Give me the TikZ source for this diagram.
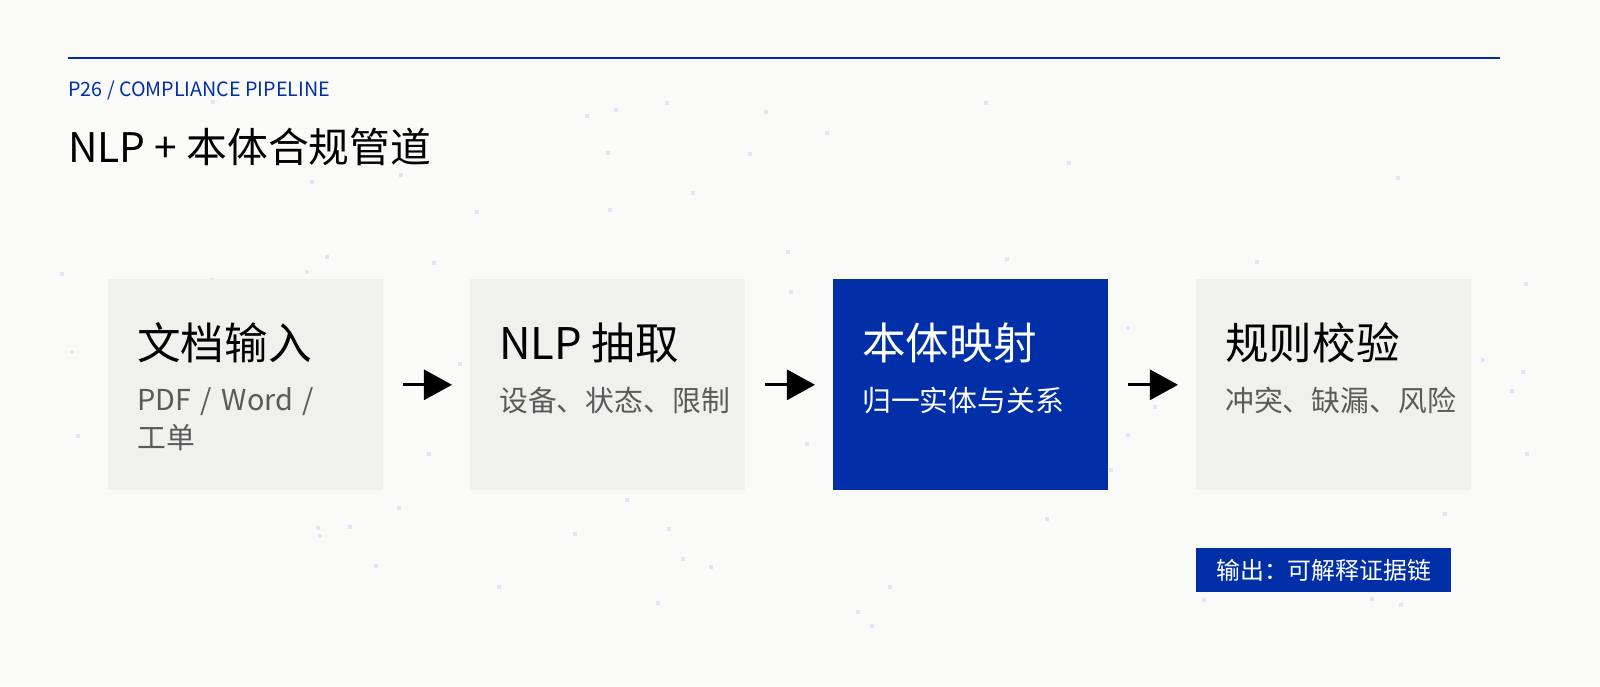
\documentclass[tikz,border=0pt]{standalone}
\usepackage{fontspec}
\setmainfont{Noto Sans CJK SC}
\usepackage{xcolor}
\usetikzlibrary{arrows.meta,positioning}
\definecolor{pipeblue}{HTML}{002FA7}
\definecolor{boxgray}{HTML}{F0F0EF}
\definecolor{subgray}{HTML}{5A5A5A}
\definecolor{dotlav}{HTML}{E2E4F6}
\definecolor{paper}{HTML}{FAFAF9}

\begin{document}
\begin{tikzpicture}[x=0.025cm, y=-0.025cm, line join=round,
    stage/.style={minimum width=6.875cm, minimum height=5.275cm, inner sep=0pt, fill=boxgray},
    stagehead/.style={anchor=west, inner sep=0pt, font=\fontsize{31}{36}\selectfont},
    stagesub/.style={anchor=north west, inner sep=0pt, align=left, text width=4.7cm,
        text=subgray, font=\fontsize{20.5}{27}\selectfont},
    flow/.style={-{Triangle[length=0.7cm, width=0.75cm]}, line width=2.1pt,
        shorten <=0.475cm, shorten >=0.45cm}]
    \useasboundingbox (0,0) rectangle (1600,686);
    \fill[paper] (0,0) rectangle (1600,686);
    % faint dots
    \pgfmathsetseed{26}
    \foreach \i in {1,...,90}{
        \pgfmathsetmacro{\dx}{60+rnd*1480}
        \pgfmathsetmacro{\dy}{90+rnd*540}
        \fill[dotlav] (\dx,\dy) rectangle ++(4,4);
    }
    % header
    \draw[pipeblue, line width=1.6pt] (68,58) -- (1500,58);
    \node[anchor=west, inner sep=0pt, text=pipeblue, font=\fontsize{14}{16}\selectfont] (kicker) at (68,90) {P26 / COMPLIANCE PIPELINE};
    \node[anchor=west, inner sep=0pt, font=\fontsize{29}{32}\selectfont] (title) at (68,147) {NLP + 本体合规管道};
    % stages
    \node[stage, anchor=north west] (doc) at (108,279) {};
    \node[stage, anchor=north west] (nlp) at (470,279) {};
    \node[stage, anchor=north west, fill=pipeblue] (onto) at (833,279) {};
    \node[stage, anchor=north west] (rule) at (1196,279) {};
    \node[stagehead] (dochead) at (137,343) {文档输入};
    \node[stagesub] (docsub) at (137,387) {PDF / Word / 工单};
    \node[stagehead] (nlphead) at (499,343) {NLP 抽取};
    \node[stagesub] (nlpsub) at (499,387) {设备、状态、限制};
    \node[stagehead, text=white] (ontohead) at (862,343) {本体映射};
    \node[stagesub, text=white] (ontosub) at (862,387) {归一实体与关系};
    \node[stagehead] (rulehead) at (1225,343) {规则校验};
    \node[stagesub] (rulesub) at (1225,387) {冲突、缺漏、风险};
    % connectors
    \draw[flow] (doc.east) -- (nlp.west);
    \draw[flow] (nlp.east) -- (onto.west);
    \draw[flow] (onto.east) -- (rule.west);
    % output tag
    \node[anchor=north west, fill=pipeblue, text=white, minimum width=6.375cm, minimum height=1.1cm,
        inner sep=0pt, font=\fontsize{17}{20}\selectfont] (output) at (1196,548) {输出：可解释证据链};
\end{tikzpicture}
\end{document}
